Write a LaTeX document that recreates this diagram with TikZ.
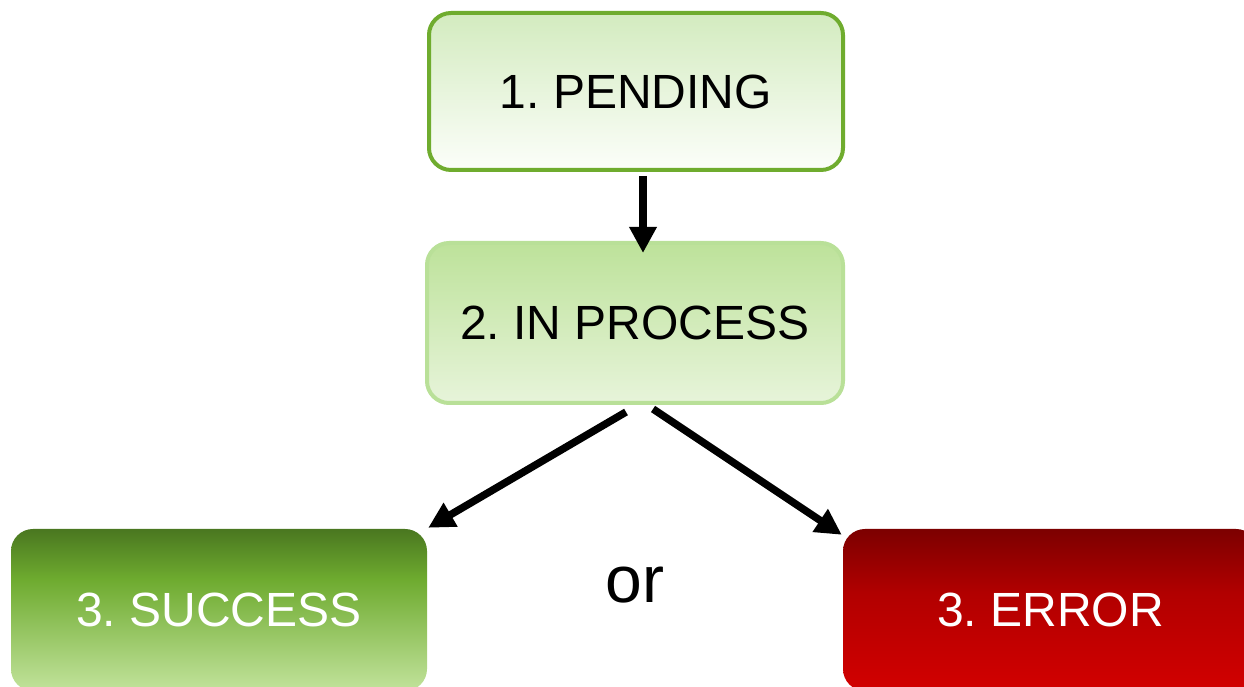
\documentclass[tikz,border=0pt]{standalone}
\usepackage{fontspec}
\setmainfont{Liberation Sans}
\usetikzlibrary{arrows.meta,calc}
\definecolor{pendBorder}{HTML}{6FAC2E}
\definecolor{pendTop}{HTML}{D3EBBF}
\definecolor{pendBot}{HTML}{FCFEFA}
\definecolor{procBorder}{HTML}{B9E098}
\definecolor{procTop}{HTML}{BDE29A}
\definecolor{procBot}{HTML}{E7F4DA}
\definecolor{sTop}{HTML}{4A7720}
\definecolor{sMid}{HTML}{6EAB2F}
\definecolor{sBot}{HTML}{C2E39C}
\definecolor{eTop}{HTML}{7C0000}
\definecolor{eMid}{HTML}{B20000}
\definecolor{eBot}{HTML}{D20000}
\pgfdeclareverticalshading{succshade}{100bp}{color(0bp)=(sBot); color(25bp)=(sBot); color(59.5bp)=(sMid); color(75bp)=(sTop); color(100bp)=(sTop)}
\pgfdeclareverticalshading{errshade}{100bp}{color(0bp)=(eBot); color(25bp)=(eBot); color(55bp)=(eMid); color(75bp)=(eTop); color(100bp)=(eTop)}
\tikzset{
  statebox/.style={rectangle, rounded corners=22pt, inner sep=0pt, align=center,
    font=\fontsize{48}{58}\selectfont\frenchspacing},
  conn/.style={line width=7.5pt, -{Triangle[length=26pt,width=26pt]}},
}
\begin{document}
\begin{tikzpicture}[x=1pt,y=1pt]
\useasboundingbox (0,0) rectangle (1244,687);
\clip (0,0) rectangle (1244,687);
\node[statebox, draw=pendBorder, line width=4pt, top color=pendTop, bottom color=pendBot,
  minimum width=414pt, minimum height=157pt] (pending) at (636,595.5) {1. PENDING};
\node[statebox, draw=procBorder, line width=4pt, top color=procTop, bottom color=procBot,
  minimum width=416pt, minimum height=160pt] (process) at (635,364) {2. IN PROCESS};
\node[statebox, shading=succshade, text=white,
  minimum width=416pt, minimum height=162pt] (success) at (219,77) {3. SUCCESS};
\node[statebox, shading=errshade, text=white,
  minimum width=415pt, minimum height=162pt] (error) at (1050.5,77) {3. ERROR};
\node[anchor=base, inner sep=0pt, font=\fontsize{66}{79}\selectfont] (or) at (635,84) {or};
\draw[conn, shorten >=-12pt] ($(pending.south)+(7,-4)$) -- ($(process.north)+(8,0)$);
\draw[conn] ($(process.south)+(-9,-7)$) -- ($(success.north east)+(1,1)$);
\draw[conn] ($(process.south)+(18,-4)$) -- ($(error.north west)+(-1,-6)$);
\end{tikzpicture}
\end{document}
